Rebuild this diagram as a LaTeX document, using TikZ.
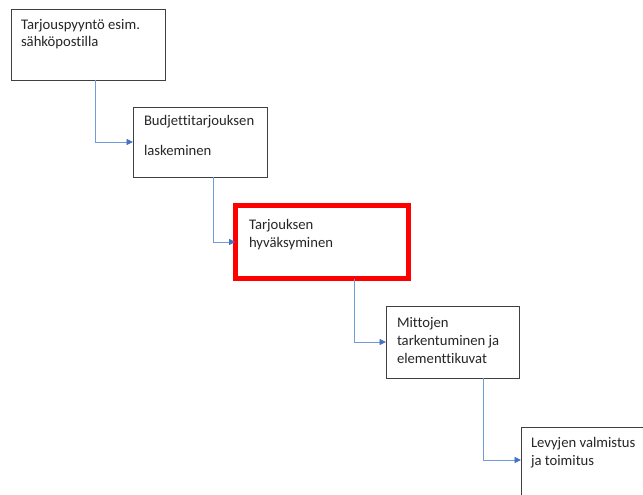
\documentclass[tikz,border=0pt]{standalone}
\usepackage{fontspec}
\setmainfont{Carlito}[Ligatures=NoCommon]
\usetikzlibrary{arrows.meta}
\definecolor{linkblue}{RGB}{112,156,222}
\definecolor{tipblue}{RGB}{68,114,196}
\definecolor{edgegray}{RGB}{64,64,64}
\begin{document}
\begin{tikzpicture}[x=1pt, y=-1pt,
  every node/.style={inner sep=0pt, outer sep=0pt},
  step box/.style={draw=edgegray, line width=0.9pt, fill=white},
  steptext/.style={anchor=base west, align=left, font=\fontsize{14.67}{17.9}\selectfont, text=black!85},
  link/.style={draw=linkblue, line width=0.9pt, -{Triangle[length=6.5pt, width=6pt, color=tipblue]}}]
  \useasboundingbox (0,0) rectangle (643,495);
  \clip (0,0) rectangle (643,495);

  % Process steps, top left to bottom right (text placed at its last baseline)
  \node[step box, minimum width=154pt, minimum height=71pt] (b1) at (88, 44.5) {};
  \node[steptext] (t1) at (21, 47) {Tarjouspyyntö esim.\\sähköpostilla};

  \node[step box, minimum width=134pt, minimum height=70pt] (b2) at (200, 142) {};
  \node[steptext] (t2) at (144, 155) {Budjettitarjouksen\\[12pt]laskeminen};

  \node[step box, draw=red, line width=5pt, minimum width=173pt, minimum height=73pt] (b3) at (322, 242) {};
  \node[steptext] (t3) at (249, 247) {Tarjouksen\\hyväksyminen};

  \node[step box, minimum width=133pt, minimum height=72pt] (b4) at (452.5, 342) {};
  \node[steptext] (t4) at (397, 363) {Mittojen\\tarkentuminen ja\\elementtikuvat};

  \node[step box, minimum width=140pt, minimum height=86pt] (b5) at (591, 470) {};
  \node[steptext] (t5) at (531, 465) {Levyjen valmistus\\ja toimitus};

  % Elbow connectors
  \draw[link] ([xshift=84pt]b1.south west) |- (b2.west);
  \draw[link] ([xshift=80pt]b2.south west) |- (b3.west);
  \draw[link] ([xshift=118.5pt]b3.south west) |- (b4.west);
  \draw[link] ([xshift=97pt]b4.south west) |- ([yshift=10pt]b5.west);
\end{tikzpicture}
\end{document}
